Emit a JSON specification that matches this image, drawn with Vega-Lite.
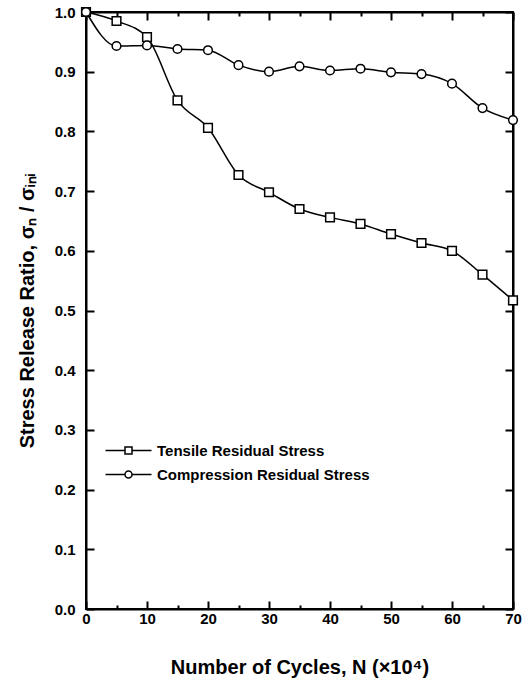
{
  "$schema": "https://vega.github.io/schema/vega-lite/v6.json",
  "width": 427,
  "height": 597,
  "autosize": {"type": "none"},
  "padding": {"left": 86, "top": 12, "right": 17, "bottom": 72},
  "background": "white",
  "config": {
    "font": "Liberation Sans",
    "view": {"stroke": "black", "strokeWidth": 2},
    "axis": {
      "domainColor": "black",
      "domainWidth": 2,
      "tickColor": "black",
      "tickWidth": 2,
      "grid": false,
      "labelFont": "Liberation Sans",
      "labelFontSize": 15,
      "labelFontWeight": "bold",
      "labelColor": "black",
      "titleFont": "Liberation Sans",
      "titleFontSize": 20,
      "titleFontWeight": "bold",
      "titleColor": "black"
    }
  },
  "data": {
    "values": [
      {"series": "Tensile Residual Stress", "cycles": 0, "ratio": 1.0},
      {"series": "Tensile Residual Stress", "cycles": 5, "ratio": 0.985},
      {"series": "Tensile Residual Stress", "cycles": 10, "ratio": 0.958},
      {"series": "Tensile Residual Stress", "cycles": 15, "ratio": 0.852},
      {"series": "Tensile Residual Stress", "cycles": 20, "ratio": 0.806},
      {"series": "Tensile Residual Stress", "cycles": 25, "ratio": 0.727},
      {"series": "Tensile Residual Stress", "cycles": 30, "ratio": 0.698},
      {"series": "Tensile Residual Stress", "cycles": 35, "ratio": 0.670},
      {"series": "Tensile Residual Stress", "cycles": 40, "ratio": 0.656},
      {"series": "Tensile Residual Stress", "cycles": 45, "ratio": 0.645},
      {"series": "Tensile Residual Stress", "cycles": 50, "ratio": 0.628},
      {"series": "Tensile Residual Stress", "cycles": 55, "ratio": 0.613},
      {"series": "Tensile Residual Stress", "cycles": 60, "ratio": 0.600},
      {"series": "Tensile Residual Stress", "cycles": 65, "ratio": 0.560},
      {"series": "Tensile Residual Stress", "cycles": 70, "ratio": 0.517},
      {"series": "Compression Residual Stress", "cycles": 0, "ratio": 1.0},
      {"series": "Compression Residual Stress", "cycles": 5, "ratio": 0.943},
      {"series": "Compression Residual Stress", "cycles": 10, "ratio": 0.944},
      {"series": "Compression Residual Stress", "cycles": 15, "ratio": 0.938},
      {"series": "Compression Residual Stress", "cycles": 20, "ratio": 0.936},
      {"series": "Compression Residual Stress", "cycles": 25, "ratio": 0.911},
      {"series": "Compression Residual Stress", "cycles": 30, "ratio": 0.900},
      {"series": "Compression Residual Stress", "cycles": 35, "ratio": 0.909},
      {"series": "Compression Residual Stress", "cycles": 40, "ratio": 0.902},
      {"series": "Compression Residual Stress", "cycles": 45, "ratio": 0.905},
      {"series": "Compression Residual Stress", "cycles": 50, "ratio": 0.899},
      {"series": "Compression Residual Stress", "cycles": 55, "ratio": 0.896},
      {"series": "Compression Residual Stress", "cycles": 60, "ratio": 0.880},
      {"series": "Compression Residual Stress", "cycles": 65, "ratio": 0.839},
      {"series": "Compression Residual Stress", "cycles": 70, "ratio": 0.819}
    ]
  },
  "layer": [
    {
      "mark": {"type": "line", "interpolate": "monotone", "color": "black", "strokeWidth": 1.5},
      "encoding": {
        "x": {
          "field": "cycles", "type": "quantitative",
          "scale": {"domain": [0, 70], "nice": false, "zero": false},
          "axis": {
            "orient": "bottom",
            "values": [0, 5, 10, 15, 20, 25, 30, 35, 40, 45, 50, 55, 60, 65, 70],
            "labelExpr": "datum.value % 10 === 0 ? datum.label : ''",
            "tickSize": {"condition": {"test": "datum.value % 10 === 0", "value": -8}, "value": -4},
            "labelPadding": 10,
            "labelFlush": false,
            "title": "Number of Cycles, N (×10⁴)",
            "titlePadding": 31
          }
        },
        "y": {
          "field": "ratio", "type": "quantitative",
          "scale": {"domain": [0, 1], "nice": false, "zero": false},
          "axis": {
            "orient": "left",
            "values": [0, 0.1, 0.2, 0.3, 0.4, 0.5, 0.6, 0.7, 0.8, 0.9, 1.0],
            "format": ".1f",
            "tickSize": -8,
            "labelPadding": 19,
            "labelFlush": false,
            "title": "Stress Release Ratio,  σₙ / σᵢₙᵢ",
            "titlePadding": 17
          }
        },
        "detail": {"field": "series"}
      }
    },
    {
      "mark": {"type": "point", "filled": true, "fill": "white", "stroke": "black", "strokeWidth": 1.5, "size": 75, "opacity": 1},
      "encoding": {
        "x": {
          "field": "cycles", "type": "quantitative",
          "scale": {"domain": [0, 70], "nice": false, "zero": false},
          "axis": {
            "orient": "top",
            "values": [0, 5, 10, 15, 20, 25, 30, 35, 40, 45, 50, 55, 60, 65, 70],
            "labels": false,
            "tickSize": {"condition": {"test": "datum.value % 10 === 0", "value": -8}, "value": -4},
            "title": null
          }
        },
        "y": {
          "field": "ratio", "type": "quantitative",
          "scale": {"domain": [0, 1], "nice": false, "zero": false},
          "axis": {
            "orient": "right",
            "values": [0, 0.1, 0.2, 0.3, 0.4, 0.5, 0.6, 0.7, 0.8, 0.9, 1.0],
            "labels": false,
            "tickSize": -8,
            "title": null
          }
        },
        "shape": {
          "field": "series", "type": "nominal",
          "scale": {"domain": ["Tensile Residual Stress", "Compression Residual Stress"], "range": ["square", "circle"]},
          "legend": null
        }
      }
    },
    {
      "mark": {"type": "point", "filled": false, "stroke": "black", "strokeWidth": 1.5, "size": 1, "opacity": 0},
      "encoding": {
        "x": {"field": "cycles", "type": "quantitative", "axis": null},
        "y": {"field": "ratio", "type": "quantitative", "axis": null},
        "shape": {
          "field": "series", "type": "nominal",
          "scale": {
            "domain": ["Tensile Residual Stress", "Compression Residual Stress"],
            "range": [
              "M-4.6,0L-0.7,0M0.7,0L4.6,0M-0.7,-0.7L0.7,-0.7L0.7,0.7L-0.7,0.7Z",
              "M-4.6,0L-0.7,0M0.7,0L4.6,0M-0.7,0A0.7,0.7,0,1,0,0.7,0A0.7,0.7,0,1,0,-0.7,0Z"
            ]
          },
          "legend": {
            "title": null,
            "orient": "none",
            "legendX": 35,
            "legendY": 431,
            "symbolSize": 100,
            "symbolFillColor": "white",
            "symbolStrokeColor": "black",
            "symbolStrokeWidth": 1.5,
            "symbolOpacity": 1,
            "labelFont": "Liberation Sans",
            "labelFontSize": 15,
            "labelFontWeight": "bold",
            "labelColor": "black",
            "labelLimit": 400,
            "labelOffset": 21,
            "rowPadding": 8,
            "padding": 0,
            "encode": {
              "symbols": {
                "update": {
                  "fill": {"value": "white"},
                  "stroke": {"value": "black"},
                  "strokeWidth": {"value": 1.5},
                  "opacity": {"value": 1}
                }
              }
            }
          }
        }
      }
    }
  ],
  "resolve": {"axis": {"x": "independent", "y": "independent"}, "scale": {"shape": "independent"}}
}
